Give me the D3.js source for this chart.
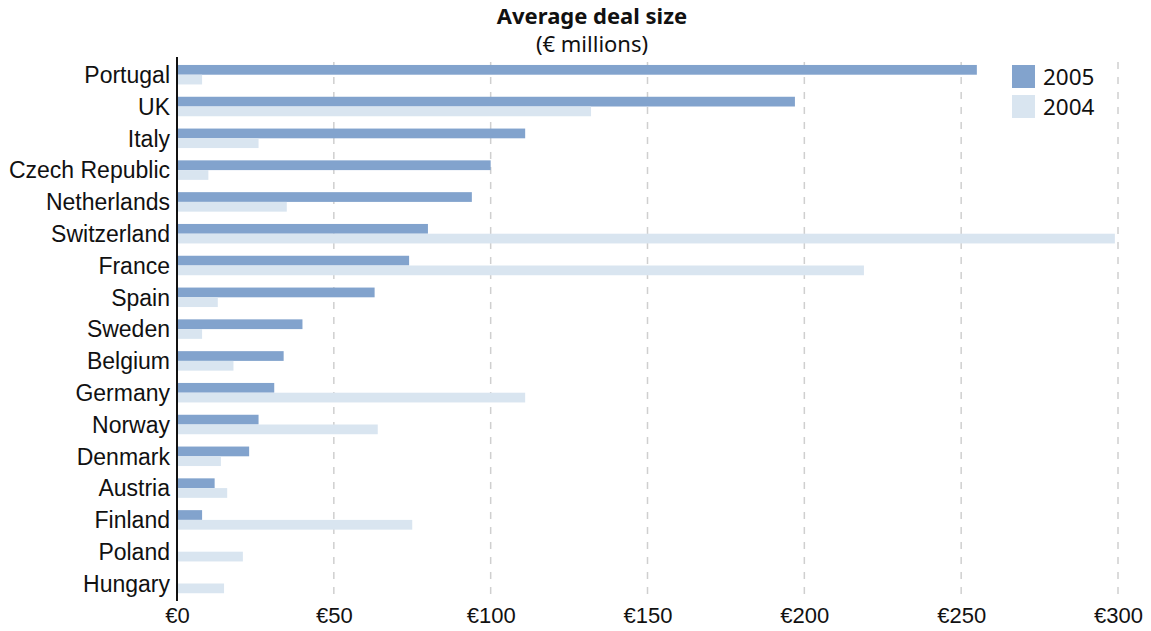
<!DOCTYPE html>
<html>
<head>
<meta charset="utf-8">
<script src="https://cdn.jsdelivr.net/npm/d3@7"></script>
<style>
  html, body { margin: 0; padding: 0; background: #fff; }
  svg { display: block; font-family: "Noto Sans", "Open Sans", sans-serif; }
</style>
</head>
<body>
<svg id="chart" width="1151" height="631"></svg>
<script>
// Average deal size by country, € millions
const countries = ["Portugal", "UK", "Italy", "Czech Republic", "Netherlands", "Switzerland",
  "France", "Spain", "Sweden", "Belgium", "Germany", "Norway", "Denmark", "Austria",
  "Finland", "Poland", "Hungary"];
const values2005 = [255, 197, 111, 100, 94, 80, 74, 63, 40, 34, 31, 26, 23, 12, 8, 0, 0];
const values2004 = [8, 132, 26, 10, 35, 299, 219, 13, 8, 18, 111, 64, 14, 16, 75, 21, 15];
const seriesNames = ["2005", "2004"];
const xTicks = [0, 50, 100, 150, 200, 250, 300];

const colors = { "2005": "#82a3cd", "2004": "#d9e5f0" };

const svg = d3.select("#chart");
const plotLeft = 177, plotRight = 1118, plotTop = 58.6, plotBottom = 599.6;

const x = d3.scaleLinear().domain([0, 300]).range([plotLeft, plotRight]);
const y = d3.scaleBand().domain(countries).range([plotTop, plotBottom])
  .paddingInner(0.387).paddingOuter(0.2);
const ySub = d3.scaleBand().domain(seriesNames).range([0, y.bandwidth()]);

// dashed vertical gridlines
svg.append("g").selectAll("line")
  .data(xTicks.filter(d => d > 0))
  .join("line")
  .attr("x1", d => x(d)).attr("x2", d => x(d))
  .attr("y1", 62).attr("y2", 600)
  .attr("stroke", "#cfcfcf").attr("stroke-width", 1.5)
  .attr("stroke-dasharray", "7,8");

// bars
const rows = countries.map((c, i) => ({ c, v: { "2005": values2005[i], "2004": values2004[i] } }));
const groups = svg.append("g").selectAll("g")
  .data(rows).join("g")
  .attr("transform", d => `translate(0,${y(d.c)})`);
groups.selectAll("rect")
  .data(d => seriesNames.map(s => ({ s, v: d.v[s] })))
  .join("rect")
  .attr("x", x(0))
  .attr("y", d => ySub(d.s))
  .attr("width", d => x(d.v) - x(0))
  .attr("height", ySub.bandwidth())
  .attr("fill", d => colors[d.s]);

// category axis
const yAxis = d3.axisLeft(y).tickSize(0).tickPadding(7);
const yg = svg.append("g").attr("transform", `translate(${plotLeft},0)`).call(yAxis);
yg.select(".domain").remove();
yg.selectAll("text").attr("font-size", 23).attr("fill", "#111").attr("font-family", "inherit")
  .attr("dy", "0.36em");
svg.append("line")
  .attr("x1", plotLeft).attr("x2", plotLeft).attr("y1", 57).attr("y2", 601)
  .attr("stroke", "#111").attr("stroke-width", 2);

// value axis
const xAxis = d3.axisBottom(x).tickValues(xTicks).tickSize(0).tickPadding(6)
  .tickFormat(d => "€" + d);
const xg = svg.append("g").attr("transform", `translate(0,${601})`).call(xAxis);
xg.select(".domain").remove();
xg.selectAll("text").attr("font-size", 22).attr("fill", "#111").attr("font-family", "inherit");

// title
svg.append("text").attr("x", 592).attr("y", 24).attr("text-anchor", "middle")
  .attr("font-size", 22).attr("font-weight", "bold").attr("fill", "#111")
  .text("Average deal size");
svg.append("text").attr("x", 592).attr("y", 52).attr("text-anchor", "middle")
  .attr("font-size", 22).attr("fill", "#111")
  .text("(€ millions)");

// legend
const legend = svg.append("g").selectAll("g")
  .data(seriesNames).join("g")
  .attr("transform", (d, i) => `translate(1012,${65 + i * 30})`);
legend.append("rect").attr("width", 23).attr("height", 23).attr("fill", d => colors[d]);
legend.append("text").attr("x", 31).attr("y", 20).attr("font-size", 22.5).attr("fill", "#111")
  .text(d => d);
</script>
</body>
</html>
